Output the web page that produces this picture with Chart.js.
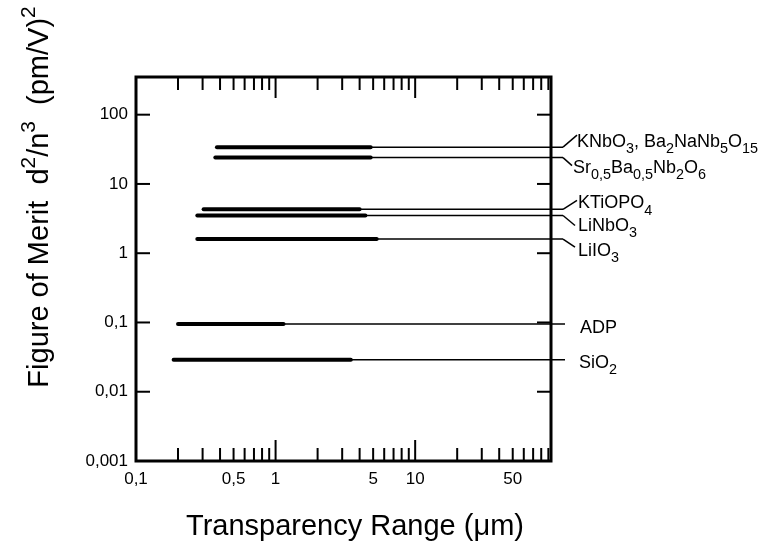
<!DOCTYPE html>
<html>
<head>
<meta charset="utf-8">
<script src="https://cdn.jsdelivr.net/npm/chart.js@4.4.1/dist/chart.umd.min.js"></script>
<style>
body { margin: 0; background: #fff; }
#wrap { width: 761px; height: 541px; }
</style>
</head>
<body>
<div id="wrap"><canvas id="fomChart"></canvas></div>
<script>
// crystals, figure of merit d^2/n^3 and transparency range (um)
var crystals = ["KNbO_3, Ba_2NaNb_5O_15", "Sr_{0,5}Ba_{0,5}Nb_2O_6", "KTiOPO_4", "LiNbO_3", "LiIO_3", "ADP", "SiO_2"];
var figureOfMerit = [34, 24, 4.3, 3.5, 1.6, 0.095, 0.029];
var rangeStart = [0.38, 0.37, 0.305, 0.275, 0.275, 0.2, 0.186];
var rangeEnd = [4.8, 4.8, 4.0, 4.4, 5.3, 1.14, 3.46];

var xTicks = [0.1, 0.2, 0.3, 0.4, 0.5, 0.6, 0.7, 0.8, 0.9,
              1, 2, 3, 4, 5, 6, 7, 8, 9,
              10, 20, 30, 40, 50, 60, 70, 80, 90];
var xLabelled = [0.1, 0.5, 1, 5, 10, 50];
var yTicks = [0.001, 0.01, 0.1, 1, 10, 100];

var FONT = "'Liberation Sans', Arial, sans-serif";

function comma(v) {
    return String(v).replace(".", ",");
}

function isDecade(v) {
    var l = Math.log10(v);
    return Math.abs(l - Math.round(l)) < 1e-9;
}

// text with _sub and ^sup parts
function drawRich(ctx, str, x, y, size, align) {
    var parts = [], re = /([_^])(\{[^}]*\}|\d+)/g, last = 0, m;
    while ((m = re.exec(str))) {
        if (m.index > last) parts.push({ t: str.slice(last, m.index), k: 0 });
        parts.push({ t: m[2].replace(/[{}]/g, ""), k: m[1] === "_" ? 1 : -1 });
        last = re.lastIndex;
    }
    if (last < str.length) parts.push({ t: str.slice(last), k: 0 });
    var w = 0;
    parts.forEach(function (p) {
        p.size = p.k === 0 ? size : (p.k === 1 ? size * 0.8 : size * 0.72);
        ctx.font = p.size + "px " + FONT;
        p.w = ctx.measureText(p.t).width;
        w += p.w;
    });
    var cx = align === "center" ? x - w / 2 : x;
    ctx.textAlign = "left";
    ctx.textBaseline = "alphabetic";
    parts.forEach(function (p) {
        ctx.font = p.size + "px " + FONT;
        var dy = p.k === 1 ? size * 0.35 : (p.k === -1 ? -size * 0.45 : 0);
        ctx.fillText(p.t, cx, y + dy);
        cx += p.w;
    });
}

var frameAndLabels = {
    id: "frameAndLabels",
    afterDatasetsDraw: function (chart) {
        var ctx = chart.ctx, a = chart.chartArea;
        var xs = chart.scales.x, ys = chart.scales.y;
        ctx.save();
        ctx.strokeStyle = "#000";
        ctx.fillStyle = "#000";
        ctx.lineCap = "butt";

        function seg(x1, y1, x2, y2) {
            ctx.beginPath();
            ctx.moveTo(x1, y1);
            ctx.lineTo(x2, y2);
            ctx.stroke();
        }

        // frame
        ctx.lineWidth = 3;
        ctx.strokeRect(a.left, a.top, a.right - a.left, a.bottom - a.top);

        // inward ticks
        ctx.lineWidth = 2;
        xs.ticks.forEach(function (t) {
            var px = xs.getPixelForValue(t.value);
            var len = isDecade(t.value) ? 21 : 13;
            seg(px, a.bottom, px, a.bottom - len);
            seg(px, a.top, px, a.top + len);
        });
        ys.ticks.forEach(function (t) {
            var py = ys.getPixelForValue(t.value);
            seg(a.left, py, a.left + 14, py);
            seg(a.right, py, a.right - 14, py);
        });

        // thin lines out to the crystal names
        var ext = [12, 12, 12, 12, 12, 14, 14];
        var leadDx = [14, 9, 14, 12, 12, 0, 0];
        var leadDy = [-12, 8, -9, 10, 8, 0, 0];
        var labDx = [26, 22, 27, 27, 27, 29, 28];
        var labDy = [0, 15, -1, 15, 17, 9, 8];
        ctx.lineWidth = 1.5;
        crystals.forEach(function (name, i) {
            var py = ys.getPixelForValue(figureOfMerit[i]);
            var x0 = xs.getPixelForValue(rangeEnd[i]);
            var x1 = a.right + ext[i];
            seg(x0, py, x1, py);
            if (leadDy[i] !== 0) seg(x1, py, x1 + leadDx[i], py + leadDy[i]);
            drawRich(ctx, name, a.right + labDx[i], py + labDy[i], 18, "left");
        });

        // axis titles
        drawRich(ctx, "Transparency Range (\u03bcm)", 355, 535, 29, "center");
        ctx.save();
        ctx.translate(48, 197);
        ctx.rotate(-Math.PI / 2);
        drawRich(ctx, "Figure of Merit  d^2/n^3  (pm/V)^2", 0, 0, 29, "center");
        ctx.restore();

        ctx.restore();
    }
};

var datasets = crystals.map(function (name, i) {
    return {
        label: name,
        data: [{ x: rangeStart[i], y: figureOfMerit[i] }, { x: rangeEnd[i], y: figureOfMerit[i] }],
        borderColor: "#000",
        borderWidth: 4,
        borderCapStyle: "round",
        pointRadius: 0,
        fill: false
    };
});

new Chart("fomChart", {
    type: "line",
    data: { datasets: datasets },
    plugins: [frameAndLabels],
    options: {
        responsive: true,
        maintainAspectRatio: false,
        animation: false,
        layout: { padding: { left: 0, top: 77, right: 210, bottom: 0 } },
        plugins: { legend: { display: false }, tooltip: { enabled: false } },
        scales: {
            x: {
                type: "logarithmic",
                min: 0.1,
                max: 94,
                afterBuildTicks: function (s) { s.ticks = xTicks.map(function (v) { return { value: v }; }); },
                afterFit: function (s) { s.height = 80; },
                grid: { display: false, drawTicks: false },
                border: { display: false },
                ticks: {
                    autoSkip: false,
                    maxRotation: 0,
                    padding: 8,
                    color: "#000",
                    font: { family: FONT, size: 17 },
                    callback: function (v) { return xLabelled.indexOf(v) >= 0 ? comma(v) : ""; }
                }
            },
            y: {
                type: "logarithmic",
                min: 0.001,
                max: 350,
                afterBuildTicks: function (s) { s.ticks = yTicks.map(function (v) { return { value: v }; }); },
                afterFit: function (s) { s.width = 136; },
                grid: { display: false, drawTicks: false },
                border: { display: false },
                ticks: {
                    autoSkip: false,
                    padding: 8,
                    color: "#000",
                    font: { family: FONT, size: 17 },
                    callback: function (v) { return comma(v); }
                }
            }
        }
    }
});
</script>
</body>
</html>
